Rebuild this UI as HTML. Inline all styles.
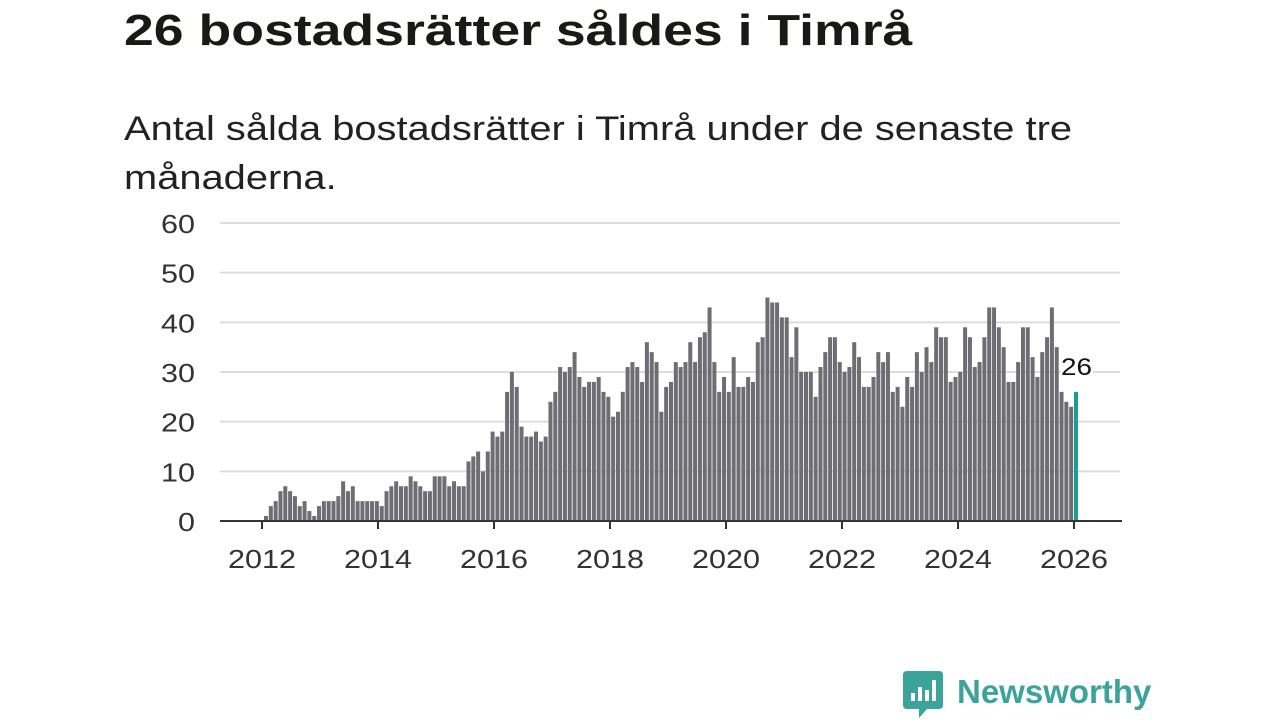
<!DOCTYPE html>
<html><head><meta charset="utf-8"><style>
body{margin:0;width:1280px;height:720px;background:#fff;font-family:"Liberation Sans",sans-serif;overflow:hidden;position:relative}
h1{position:absolute;left:124px;top:6px;margin:0;font-size:44px;font-weight:bold;color:#1a1a14;transform:scaleX(1.218);transform-origin:left top;white-space:nowrap}
p.sub{position:absolute;left:124px;top:105px;margin:0;font-size:34px;line-height:49px;color:#222;transform:scaleX(1.172);transform-origin:left top;white-space:nowrap}
svg{position:absolute;left:0;top:0}
</style></head><body>
<h1>26 bostadsrätter såldes i Timrå</h1>
<p class="sub">Antal sålda bostadsrätter i Timrå under de senaste tre<br>månaderna.</p>
<svg id="c" width="1280" height="720"></svg>
<script>
const values=[1,3,4,6,7,6,5,3,4,2,1,
3,4,4,4,5,8,6,7,4,4,4,4,
4,3,6,7,8,7,7,9,8,7,6,6,
9,9,9,7,8,7,7,12,13,14,10,14,
18,17,18,26,30,27,19,17,17,18,16,17,
24,26,31,30,31,34,29,27,28,28,29,26,
25,21,22,26,31,32,31,28,36,34,32,22,
27,28,32,31,32,36,32,37,38,43,32,26,
29,26,33,27,27,29,28,36,37,45,44,44,
41,41,33,39,30,30,30,25,31,34,37,37,
32,30,31,36,33,27,27,29,34,32,34,26,
27,23,29,27,34,30,35,32,39,37,37,28,
29,30,39,37,31,32,37,43,43,39,35,28,
28,32,39,39,33,29,34,37,43,35,26,24,23,26];
const yTicks=[0,10,20,30,40,50,60];
const xTicks=[2012,2014,2016,2018,2020,2022,2024,2026];
const NS='http://www.w3.org/2000/svg';
const svg=document.getElementById('c');
const y=v=>521-v*(298/60);
const x=yr=>262+(yr-2012)*58;
const N=values.length;
const step=(1076-266)/(N-1);
function el(t,a){const e=document.createElementNS(NS,t);for(const k in a)e.setAttribute(k,a[k]);svg.appendChild(e);return e;}
yTicks.forEach(t=>{
 if(t>0){const g=el('line',{x1:220,x2:1120,y1:y(t),y2:y(t),stroke:'#ddd','stroke-width':2});
 
 }
 const s=String(t);
 const l=el('text',{x:195,y:y(t)+10,'text-anchor':'end','font-size':26,fill:'#333','font-family':'Liberation Sans, sans-serif',textLength:17*s.length,lengthAdjust:'spacingAndGlyphs'});
 l.textContent=s;
 
 
});
values.forEach((v,i)=>{
 const cx=266+i*step;
 const last=i===N-1;
 const r=el('rect',{x:cx-2,y:y(v),width:4,height:521-y(v),fill:last?'#1a9e94':'#6e6d73'});
 
 
});
const ax=el('line',{x1:220,x2:1122,y1:521,y2:521,stroke:'#333','stroke-width':2});


xTicks.forEach(t=>{
 const tk=el('line',{x1:x(t),x2:x(t),y1:521,y2:529,stroke:'#333','stroke-width':2});
 
 
 const l=el('text',{x:x(t),y:568,'text-anchor':'middle','font-size':26,fill:'#333','font-family':'Liberation Sans, sans-serif',textLength:68,lengthAdjust:'spacingAndGlyphs'});
 l.textContent=t;
 
 
});
const lab=el('text',{x:1061,y:y(values[N-1])-17,'font-size':24,fill:'#111','font-family':'Liberation Sans, sans-serif',stroke:'#fff','stroke-width':4,'paint-order':'stroke',textLength:31,lengthAdjust:'spacingAndGlyphs'});
lab.textContent=values[N-1];


</script>
<div style="position:absolute;left:903px;top:671px;display:flex;align-items:center">
<svg width="40" height="48" style="position:static"><path d="M0 4 Q0 0 4 0 H36 Q40 0 40 4 V34 Q40 38 36 38 H24 L16 47 V38 H4 Q0 38 0 34Z" fill="#3aa39a"/><rect x="8" y="22" width="4" height="8" fill="#fff"/><rect x="15" y="16" width="4" height="14" fill="#fff"/><rect x="22" y="19" width="4" height="11" fill="#fff"/><rect x="29" y="9" width="4" height="21" fill="#fff"/></svg>
<span style="font-size:33px;font-weight:bold;color:#3aa39a;margin-left:14px;margin-top:-6px">Newsworthy</span></div>
</body></html>
